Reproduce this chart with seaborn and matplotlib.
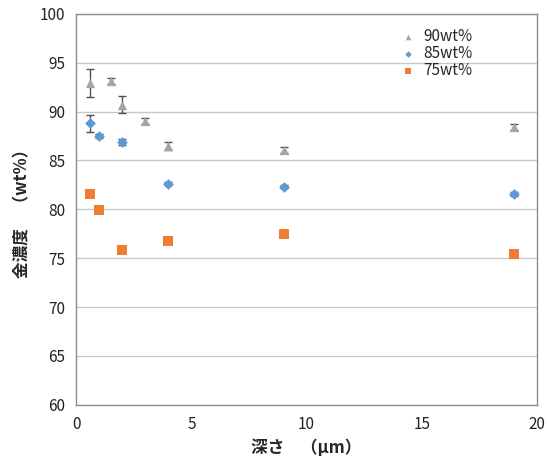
import matplotlib
matplotlib.use("Agg")
import matplotlib.pyplot as plt
import seaborn as sns
import pandas as pd

x90 = [0.6, 1.5, 2, 3, 4, 9, 19]
y90 = [92.9, 93.1, 90.7, 89.0, 86.5, 86.1, 88.4]
e90 = [1.45, 0.3, 0.85, 0.3, 0.4, 0.3, 0.3]

x85 = [0.6, 1, 2, 4, 9, 19]
y85 = [88.8, 87.5, 86.9, 82.6, 82.3, 81.6]
e85 = [0.85, 0.2, 0.3, 0.15, 0.15, 0.2]

x75 = [0.6, 1, 2, 4, 9, 19]
y75 = [81.6, 79.9, 75.8, 76.8, 77.5, 75.4]

labels = ["90wt%", "85wt%", "75wt%"]
colors = ["#A5A5A5", "#5B9BD5", "#ED7D31"]
markers = ["^", "D", "s"]

sns.set_theme(style="white")
plt.rcParams['font.family'] = ['Noto Sans CJK JP', 'DejaVu Sans']

df = pd.concat([
    pd.DataFrame({"x": x90, "y": y90, "s": labels[0]}),
    pd.DataFrame({"x": x85, "y": y85, "s": labels[1]}),
    pd.DataFrame({"x": x75, "y": y75, "s": labels[2]}),
])

fig = plt.figure(figsize=(5.48, 4.59), dpi=100)
ax = fig.add_axes([0.139, 0.118, 0.841, 0.852])

ax.errorbar(x90, y90, yerr=e90, fmt="none", ecolor="#505050", elinewidth=1, capsize=3, capthick=1, zorder=2)
ax.errorbar(x85, y85, yerr=e85, fmt="none", ecolor="#505050", elinewidth=1, capsize=3, capthick=1, zorder=2)

for lab, c, m, sz in zip(labels, colors, markers, [45, 30, 42]):
    sub = df[df["s"] == lab]
    sns.scatterplot(data=sub, x="x", y="y", color=c, marker=m, s=sz, linewidth=0,
                    ax=ax, zorder=3, label=lab)

ax.set_xlim(0, 20)
ax.set_ylim(60, 100)
ax.set_xticks([0, 5, 10, 15, 20])
ax.set_yticks(range(60, 101, 5))
ax.yaxis.grid(True, color="#C8C8C8", linewidth=1)
ax.xaxis.grid(False)
for sp in ax.spines.values():
    sp.set_color("#8C8C8C")
    sp.set_linewidth(1)
ax.tick_params(axis="both", length=0, labelsize=11, colors="#222222", pad=8)

ax.set_xlabel("深さ　（μm）", fontsize=12, fontweight="bold", labelpad=4)
ax.set_ylabel("金濃度　（wt%）", fontsize=12, fontweight="bold", labelpad=6)

ax.legend(loc="upper right", frameon=False, fontsize=11, handletextpad=0.0,
          borderaxespad=0.5, labelspacing=0.0, markerscale=0.6,
          bbox_to_anchor=(0.89, 1.0))

fig.savefig("out.png", dpi=100)
